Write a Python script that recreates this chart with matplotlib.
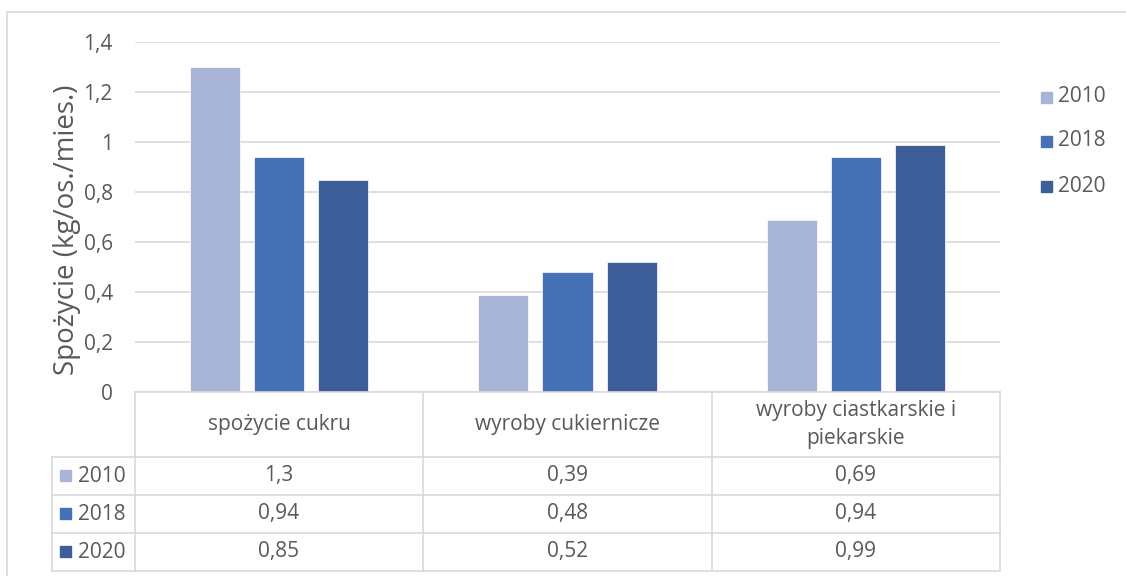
import matplotlib
matplotlib.use("Agg")
import matplotlib.pyplot as plt
from matplotlib.patches import Rectangle
from matplotlib.lines import Line2D

plt.rcParams['font.family'] = ['Open Sans', 'DejaVu Sans']

categories = ["spożycie cukru", "wyroby cukiernicze", "wyroby ciastkarskie i\npiekarskie"]
years = ["2010", "2018", "2020"]
v2010 = [1.3, 0.39, 0.69]
v2018 = [0.94, 0.48, 0.94]
v2020 = [0.85, 0.52, 0.99]
series = [v2010, v2018, v2020]
colors = ["#A9B5D7", "#4671B6", "#3E5E9A"]
yticks = [0, 0.2, 0.4, 0.6, 0.8, 1.0, 1.2, 1.4]

W, H = 1126, 576
TXT = "#595959"
GRID = "#D9D9D9"
FS = 15

fig = plt.figure(figsize=(W / 100, H / 100), dpi=100)

def fx(px):
    return px / W

def fy(py):
    return 1 - py / H

# outer chart frame
fig.add_artist(Rectangle((fx(7), fy(600)), fx(1200), fy(12) - fy(600),
                         transform=fig.transFigure, fill=False,
                         edgecolor=GRID, linewidth=1.2))

ax_l, ax_r, ax_t, ax_b = 135, 1000, 42, 392
ax = fig.add_axes([fx(ax_l), fy(ax_b), fx(ax_r - ax_l), fy(ax_t) - fy(ax_b)])
ax.set_xlim(-0.5, 2.5)
ax.set_ylim(0, 1.4)

bw = 50 / 288
step = 64 / 288
for i, (vals, c) in enumerate(zip(series, colors)):
    xs = [k + (i - 1) * step for k in range(len(categories))]
    ax.bar(xs, vals, width=bw, color=c, edgecolor="white", linewidth=0.5, zorder=3)

ax.set_yticks(yticks)
ax.set_yticklabels([("%g" % t).replace(".", ",") for t in yticks], color=TXT, fontsize=FS)
ax.tick_params(axis="y", length=0, pad=16)
ax.set_xticks([])
ax.yaxis.grid(True, color=GRID, linewidth=1.2)
ax.set_axisbelow(True)
for s in ax.spines.values():
    s.set_visible(False)

fig.text(fx(67), fy(230), "Spożycie (kg/os./mies.)", rotation=90,
         ha="center", va="center", color=TXT, fontsize=20)

# legend
leg_y = [97, 141, 186]
for y, lab, c in zip(leg_y, years, colors):
    fig.add_artist(Rectangle((fx(1041), fy(y + 6)), fx(11), fy(y - 5) - fy(y + 6),
                             transform=fig.transFigure, color=c))
    fig.text(fx(1058), fy(y), lab, ha="left", va="center", color=TXT, fontsize=FS)

# data table
col_x = [135, 423, 712, 1000]
row_y = [392, 457, 495, 533, 571]
lab_x0 = 52

def hline(x0, x1, y):
    fig.add_artist(Line2D([fx(x0), fx(x1)], [fy(y), fy(y)], transform=fig.transFigure,
                          color=GRID, linewidth=1.2))

def vline(x, y0, y1):
    fig.add_artist(Line2D([fx(x), fx(x)], [fy(y0), fy(y1)], transform=fig.transFigure,
                          color=GRID, linewidth=1.2))

hline(col_x[0], col_x[-1], row_y[0])
for y in row_y[1:]:
    hline(lab_x0, col_x[-1], y)
for x in col_x:
    vline(x, row_y[0], row_y[-1])
vline(lab_x0, row_y[1], row_y[-1])

for j, cat in enumerate(categories):
    cx = (col_x[j] + col_x[j + 1]) / 2
    fig.text(fx(cx), fy((row_y[0] + row_y[1]) / 2), cat, ha="center", va="center",
             color=TXT, fontsize=FS, linespacing=1.45)

for i, (lab, vals, c) in enumerate(zip(years, series, colors)):
    cy = (row_y[i + 1] + row_y[i + 2]) / 2
    fig.add_artist(Rectangle((fx(60), fy(cy + 5)), fx(11), fy(cy - 6) - fy(cy + 5),
                             transform=fig.transFigure, color=c))
    fig.text(fx(78), fy(cy), lab, ha="left", va="center", color=TXT, fontsize=FS)
    for j, v in enumerate(vals):
        cx = (col_x[j] + col_x[j + 1]) / 2
        fig.text(fx(cx), fy(cy), ("%g" % v).replace(".", ","), ha="center", va="center",
                 color=TXT, fontsize=FS)

fig.savefig("out.png", dpi=100, facecolor="white")
